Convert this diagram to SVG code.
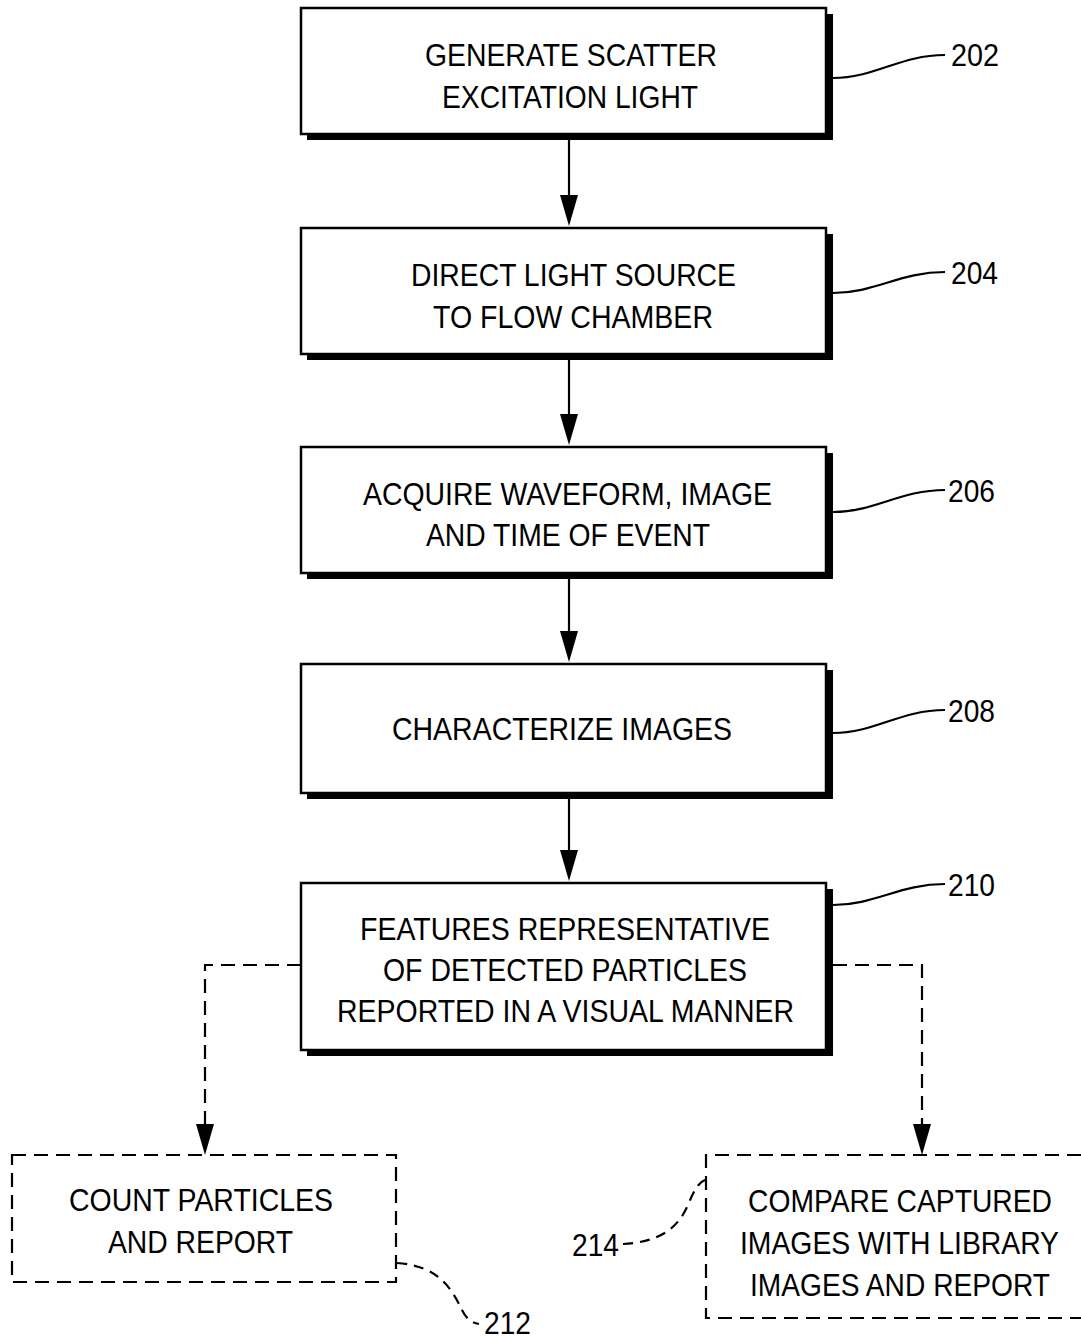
<svg xmlns="http://www.w3.org/2000/svg" width="1081" height="1339" viewBox="0 0 1081 1339">
<style>
.box{fill:#fff;stroke:#000;stroke-width:2.5}
.shadow{fill:#000}
.dbox{fill:#fff;stroke:#000;stroke-width:2.2;stroke-dasharray:14 8}
.t{font-family:"Liberation Sans",Arial,sans-serif;font-size:31px;fill:#000;text-anchor:start}
.lbl{font-family:"Liberation Sans",Arial,sans-serif;font-size:31px;fill:#000}
.line{fill:none;stroke:#000;stroke-width:2.2}
.dline{fill:none;stroke:#000;stroke-width:2.2;stroke-dasharray:14 8}
.lead{fill:none;stroke:#000;stroke-width:2.2}
.dlead{fill:none;stroke:#000;stroke-width:2.2;stroke-dasharray:10 7}
.head{fill:#000}
</style>
<rect width="1081" height="1339" fill="#fff"/>

<g id="connectors">
<path class="line" d="M569,140 V196"/>
<path class="head" d="M560,195 L578,195 L569,226 Z"/>
<path class="line" d="M569,360 V415"/>
<path class="head" d="M560,414 L578,414 L569,445 Z"/>
<path class="line" d="M569,579 V632"/>
<path class="head" d="M560,631 L578,631 L569,662 Z"/>
<path class="line" d="M569,799 V851"/>
<path class="head" d="M560,850 L578,850 L569,881 Z"/>
<path class="dline" d="M301,965 H205 V1125"/>
<path class="head" d="M196,1124 L214,1124 L205,1155 Z"/>
<path class="dline" d="M833,965 H922 V1125"/>
<path class="head" d="M913,1124 L931,1124 L922,1155 Z"/>
<path class="lead" d="M833,78 C875,78 900,55 945,55"/>
<path class="lead" d="M833,293 C875,293 900,272 945,272"/>
<path class="lead" d="M833,512 C875,512 900,490 945,490"/>
<path class="lead" d="M833,733 C875,733 900,710 945,710"/>
<path class="lead" d="M833,905 C875,905 900,884 945,884"/>
<path class="dlead" d="M397,1263 C440,1266 452,1290 462,1310 C467,1320 472,1323 479,1324"/>
<path class="dlead" d="M623,1244 C660,1242 678,1228 688,1205 C694,1190 699,1182 705,1180"/>
</g>

<g id="n202">
<rect class="shadow" x="307" y="14" width="526" height="126"/>
<rect class="box" x="301" y="8" width="525" height="126"/>
<text class="t" x="425" y="66" textLength="292" lengthAdjust="spacingAndGlyphs">GENERATE SCATTER</text>
<text class="t" x="442" y="108" textLength="256" lengthAdjust="spacingAndGlyphs">EXCITATION LIGHT</text>
<text class="lbl" x="951" y="66" textLength="48" lengthAdjust="spacingAndGlyphs">202</text>
</g>

<g id="n204">
<rect class="shadow" x="307" y="234" width="526" height="126"/>
<rect class="box" x="301" y="228" width="525" height="126"/>
<text class="t" x="411" y="286" textLength="325" lengthAdjust="spacingAndGlyphs">DIRECT LIGHT SOURCE</text>
<text class="t" x="433" y="328" textLength="280" lengthAdjust="spacingAndGlyphs">TO FLOW CHAMBER</text>
<text class="lbl" x="951" y="284" textLength="47" lengthAdjust="spacingAndGlyphs">204</text>
</g>

<g id="n206">
<rect class="shadow" x="307" y="453" width="526" height="126"/>
<rect class="box" x="301" y="447" width="525" height="126"/>
<text class="t" x="363" y="505" textLength="409" lengthAdjust="spacingAndGlyphs">ACQUIRE WAVEFORM, IMAGE</text>
<text class="t" x="426" y="546" textLength="284" lengthAdjust="spacingAndGlyphs">AND TIME OF EVENT</text>
<text class="lbl" x="948" y="502" textLength="47" lengthAdjust="spacingAndGlyphs">206</text>
</g>

<g id="n208">
<rect class="shadow" x="307" y="670" width="526" height="129"/>
<rect class="box" x="301" y="664" width="525" height="129"/>
<text class="t" x="392" y="740" textLength="340" lengthAdjust="spacingAndGlyphs">CHARACTERIZE IMAGES</text>
<text class="lbl" x="948" y="722" textLength="47" lengthAdjust="spacingAndGlyphs">208</text>
</g>

<g id="n210">
<rect class="shadow" x="307" y="889" width="526" height="167"/>
<rect class="box" x="301" y="883" width="525" height="167"/>
<text class="t" x="360" y="940" textLength="410" lengthAdjust="spacingAndGlyphs">FEATURES REPRESENTATIVE</text>
<text class="t" x="383" y="981" textLength="364" lengthAdjust="spacingAndGlyphs">OF DETECTED PARTICLES</text>
<text class="t" x="337" y="1022" textLength="457" lengthAdjust="spacingAndGlyphs">REPORTED IN A VISUAL MANNER</text>
<text class="lbl" x="948" y="896" textLength="47" lengthAdjust="spacingAndGlyphs">210</text>
</g>

<g id="n212">
<rect class="dbox" x="12" y="1155" width="384" height="127"/>
<text class="t" x="69" y="1211" textLength="264" lengthAdjust="spacingAndGlyphs">COUNT PARTICLES</text>
<text class="t" x="108" y="1253" textLength="185" lengthAdjust="spacingAndGlyphs">AND REPORT</text>
<text class="lbl" x="484" y="1334" textLength="47" lengthAdjust="spacingAndGlyphs">212</text>
</g>

<g id="n214">
<rect x="706" y="1155" width="375" height="163" fill="#fff"/>
<path class="dbox" fill="none" d="M1081,1155 H706 V1318 H1081"/>
<text class="t" x="748" y="1212" textLength="304" lengthAdjust="spacingAndGlyphs">COMPARE CAPTURED</text>
<text class="t" x="740" y="1254" textLength="319" lengthAdjust="spacingAndGlyphs">IMAGES WITH LIBRARY</text>
<text class="t" x="750" y="1296" textLength="300" lengthAdjust="spacingAndGlyphs">IMAGES AND REPORT</text>
<text class="lbl" x="572" y="1256" textLength="47" lengthAdjust="spacingAndGlyphs">214</text>
</g>
</svg>
